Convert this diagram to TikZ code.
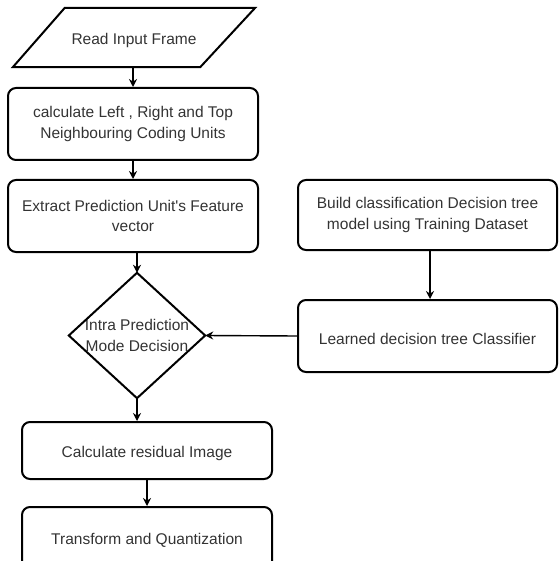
\documentclass[tikz,border=0pt]{standalone}
\usepackage{fontspec}
\setmainfont{Liberation Sans}
\usetikzlibrary{arrows.meta}
\definecolor{txt}{HTML}{333333}
\begin{document}
\begin{tikzpicture}[x=1pt,y=-1pt,
  lowtext/.style={execute at begin node={\rule{0pt}{16.5pt}}},
  box/.style={draw=black,line width=2pt,rounded corners=8pt,minimum width=#1,inner sep=0pt,align=center,text=txt,font=\fontsize{15.5}{20.5}\selectfont,lowtext},
  ghost/.style={inner sep=0pt,align=center,text=txt,font=\fontsize{15.5}{20.5}\selectfont,lowtext},
  shapeline/.style={draw=black,line width=2pt,line join=miter},
  arr/.style={draw=black,line width=1.4pt,-{Stealth[length=8pt,width=8pt]}}]
\useasboundingbox (0,0) rectangle (558,561);
\clip (0,0) rectangle (558,561);
% Read Input Frame (parallelogram)
\node[ghost,minimum width=242pt,minimum height=59pt] (read) at (134,37.5) {Read Input Frame};
\draw[shapeline] ([xshift=52pt]read.north west) -- (read.north east) -- ([xshift=-55pt]read.south east) -- (read.south west) -- cycle;
% left column boxes
\node[box=250pt,minimum height=72pt] (calc) at (133,124) {calculate Left , Right and Top\\Neighbouring Coding Units};
\node[box=250pt,minimum height=72pt] (extract) at (133,216) {Extract Prediction Unit\textquotesingle s Feature\\vector};
\node[ghost,minimum width=136pt,minimum height=125pt] (dec) at (137,335.5) {Intra Prediction\\Mode Decision};
\draw[shapeline] (dec.north) -- (dec.east) -- (dec.south) -- (dec.west) -- cycle;
\node[box=250pt,minimum height=57pt] (resid) at (147,450.5) {Calculate residual Image};
\node[box=250pt,minimum height=62pt] (trans) at (147,538) {Transform and Quantization};
% right column
\node[box=259pt,minimum height=70pt] (build) at (427.5,215) {Build classification Decision tree\\model using Training Dataset};
\node[box=259pt,minimum height=72pt] (learn) at (427.5,336) {Learned decision tree Classifier};
% connectors
\draw[arr] (read.south -| calc.north) -- (calc.north);
\draw[arr] (calc.south) -- (extract.north);
\draw[arr] (extract.south -| dec.north) -- (dec.north);
\draw[arr] (dec.south) -- (dec.south |- resid.north);
\draw[arr] (resid.south) -- (trans.north);
\draw[arr] ([xshift=2.5pt]build.south) -- ([xshift=2.5pt]learn.north);
\draw[arr] (learn.west) -- (dec.east);
\end{tikzpicture}
\end{document}
